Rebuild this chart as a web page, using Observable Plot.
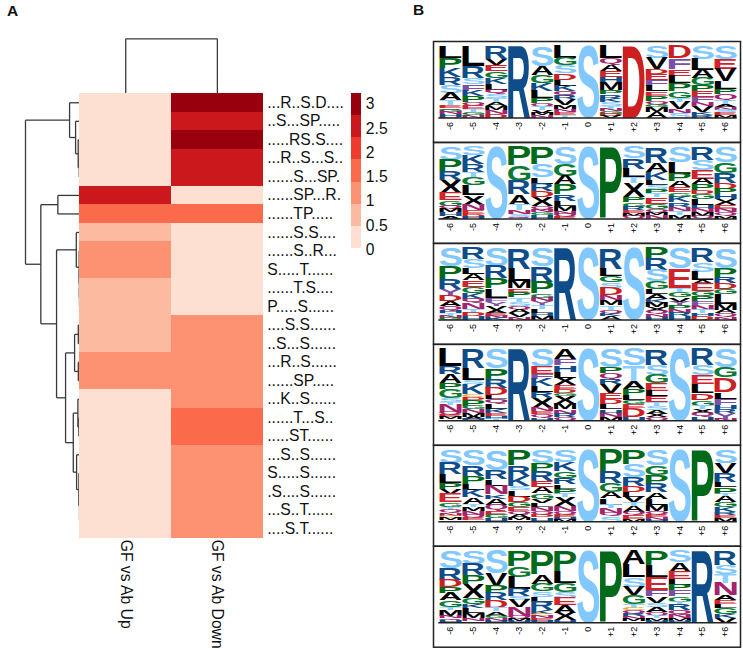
<!DOCTYPE html>
<html><head><meta charset="utf-8">
<script src="https://cdn.jsdelivr.net/npm/d3@7"></script>
<script src="https://cdn.jsdelivr.net/npm/@observablehq/plot@0.6"></script>
<style>
html,body{margin:0;padding:0;background:#fff}
#chart{position:relative;width:743px;height:655px;overflow:hidden;font-family:"Liberation Sans",Arial,sans-serif}
#chart svg{position:absolute;left:0;top:0;background:transparent}
.tag{position:absolute;font-weight:bold;font-size:15.5px;line-height:16px;color:#111}
</style></head>
<body><div id="chart"><div class="tag" style="left:7px;top:3px">A</div><div class="tag" style="left:413px;top:2px">B</div></div>
<script>
// ---------- Heatmap data ----------
const columns = ["GF vs Ab Up", "GF vs Ab Down"];
const motifs = ["...R..S.D....","..S...SP.....",".....RS.S....","...R..S...S..","......S...SP.","......SP...R.","......TP.....",
"......S.S....","......S..R...","S.....T......","......T.S....","P.....S......","....S.S......","..S...S......",
"...R..S......","......SP.....","...K..S......","......T...S..",".....ST......","...S..S......","S.....S......",".S....S......","...S..T......","....S.T......"];
const upValues   = [0,0,0,0,0,2.5,1.5,0.5,1,1,0.5,0.5,0.5,0.5,1,1,0,0,0,0,0,0,0,0];
const downValues = [3,2.5,3,2.5,2.5,0,1.5,0,0,0,0,0,1,1,1,1,1,1.5,1.5,1,1,1,1,1];
const legendBreaks = [0.46,0.91,1.37,1.83,2.29,2.74];
const legendEnds = [0,0.46,0.91,1.37,1.83,2.29,2.74,3.2];
const legendTicks = [0,0.5,1,1.5,2,2.5,3];
const reds = ["#FEE0D2","#FCBBA1","#FC9272","#FB6A4A","#EF3B2C","#CB181D","#99000D"];

// ---------- Dendrograms: [height, branch, branch]; a number is a leaf ----------
const rowTree = [54.3,
  [10.3, 0, [4.3, 1, [1.7, 2, [0.6, 3, 4]]]],
  [39,
    [22, 5, 6],
    [23.3,
      [3.6, 7, [0.7, 8, [0.5, 9, [0.4, 10, 11]]]],
      [14.3,
        [5.3, [1.6, 12, 13], [1.6, 14, 15]],
        [6.6,
          [2, 16, [1, 17, 18]],
          [3.3, 19, [1, 20, [0.4, 21, [0.2, 22, 23]]]]
        ]
      ]
    ]
  ]
];
const colTree = [54.7, 0, 1];

// ---------- Sequence logos: letters top to bottom with their share of the stack ----------
const positions = [-6,-5,-4,-3,-2,-1,0,1,2,3,4,5,6];
const positionLabels = ["-6","-5","-4","-3","-2","-1","0","+1","+2","+3","+4","+5","+6"];
const logo1 = ["L16 P15 K12 R11 S11 A10 T7 E4 Q3 G3 N3 H3 D2","L28 R16 S9 F9 K8 P8 Q5 E5 T4 G4 N4","R18 V8 E9 G9 K9 L8 Q6 S6 T5 A6 M5 N5 D6","R100","S28 A12 G11 K11 L10 P7 Q5 T5 V4 M3 N4","L17 G10 S11 D9 L8 K8 Q6 R5 V8 M6 N4 E4 T4","S100","L17 Q9 A9 E8 H8 M10 P6 R6 K5 S5 T4 N4 G3 D3 V3","D100","S17 V15 D7 E8 F8 L8 E6 P7 Q5 G4 M7 A8","D17 F15 E9 L11 P11 G9 T6 V10 N5 S7","S18 L15 A12 G10 P8 E8 F7 N6 V8 K4 R4","S18 E14 V17 L11 P7 Q8 T6 A4 N4 S3 E4 M4"];
const logo2 = ["S18 P16 R12 X18 E10 G8 Q4 M5 H5 A4","S12 K12 R11 T7 G11 L14 X13 N8 E5 D4 H3","S100","P26 G21 R19 A14 T8 N5 S4 Q3","P24 S18 L9 R10 D9 X12 Q5 N4 G4 H5","S24 G16 A12 P14 R9 L7 M7 N4 Q4 E3","S100","P100","S16 R14 L12 T8 X20 P7 G6 R5 E4 M4 Q4","R22 A13 K11 L7 S5 P6 T6 E9 G7 Q5 M4 N5","S21 L16 P10 A9 E7 G6 K8 R6 N6 T5 M6","R18 S14 E12 A8 P8 D6 G7 L8 H5 N5 M5 Q4","S21 G15 R14 D8 P8 H7 X8 E5 N5 Q5 M4"];
const logo3 = ["S25 P18 R14 Y9 D8 A7 Q6 H4 T3 N3 G3","R15 S13 L8 A9 E9 G9 K8 Q6 N8 T5 D5 H5","S25 R17 P14 L13 F6 Y6 V5 A4 E4 N3 K3","R29 L17 M10 E6 P7 T6 S6 Q5 A5 V5 N4","S25 R22 P16 G6 N5 Y6 T5 L6 H4 M5","R100","S100","R29 L10 G9 S8 D10 N7 M7 T6 Q5 K4 A5","S100","P15 R15 S15 G10 L6 A7 K5 M6 X5 Q4 N4 H4","S29 E27 T5 G8 V6 Y5 P5 N5 R5 H5","R20 S13 L12 A5 E10 G7 P7 F5 N7 T5 H4 D5","S28 P12 R9 D8 G7 L14 M8 A5 Q5 N4"];
const logo4 = ["L24 R11 A12 P9 G12 S6 T4 N10 Q4 E3 M3 H2","R27 L16 S6 K14 C4 D4 P8 G5 N5 M5 A3 H3","S27 P15 R12 D10 L6 Q7 L7 K5 E4 H4 T3","R100","S25 E10 F7 K10 L8 R8 X14 N5 E4 Q5 H4","A14 F9 H9 L8 X10 E6 D6 G4 X10 M8 N6 R5 Q5","S100","S25 P9 Q8 R7 V12 E9 D7 L7 H6 N5 M5","S23 T22 A11 P8 L7 G6 E5 D13 H5","R22 S14 G12 E10 L8 E8 T6 S5 A5 X5 Q5","S100","R23 S14 E12 L13 D9 G8 T5 X5 Q6 H5","S26 G14 D20 L9 F9 H6 R5 Y8 N3"];
const logo5 = ["S18 R15 L13 P8 V7 E12 G6 T4 Q5 N4 C3 M3 H2","S22 R14 P11 L9 K10 A9 T4 M6 N5 Q5 E3 H2","S28 R13 L9 N12 K6 A8 Q8 E6 G5 H5","P22 R14 K14 S6 L9 D8 G7 E5 Q5 A5 M3 N2","S18 P11 R14 E8 A9 G8 V6 L5 N6 Q5 D4 H6","S17 K13 G9 R9 L6 P7 T5 X12 N7 Q5 E4 H3 M3","S100","P30 R16 G13 A8 L9 T5 N7 Q4 S8","P20 S18 R12 D8 L7 V8 T5 A8 Q5 E5 M4","S22 G13 P12 R12 A9 L8 M9 Q5 E4 N3 H3","S100","P100","S18 V14 R13 L7 P9 T3 A8 G8 K7 R4 E4 M5"];
const logo6 = ["S24 R16 D10 P9 A10 G9 T4 M8 N4 Q3 H3","S18 R16 P12 X19 G9 K6 L7 M7 N4 E2","S32 V17 P10 R10 D10 T5 A6 G4 N3 H3","P21 G15 L17 R10 S5 V10 N12 Q4 M3 H3","P33 A13 G10 S8 L7 R12 K5 C3 N3 E3 H3","P29 L16 G12 S9 E10 A10 X10 H4","S100","P100","A19 L18 S13 V12 G12 T5 C4 Q4 R4 N4 M3 H2","P20 L16 E18 F9 V9 S6 A7 Q5 T3 M4 H3","S16 A13 E10 L8 P8 F8 G8 T3 R9 Q6 N5 M3 H3","R100","R20 S13 T12 N17 A7 E5 L5 G9 K5 V7"];
const logoPanels = [logo1, logo2, logo3, logo4, logo5, logo6];
const letterNames = ["S","T","R","K","H","P","G","D","E","L","A","V","M","I","X","N","Q","F","Y","C"];
const letterColors = ["#80C8FF","#8CD0FF","#0F4C8A","#0F4C8A","#0F4C8A","#006A1A","#0B7A32","#CC1F1F","#D0232B","#000000","#000000","#000000","#000000","#000000","#000000","#A3246C","#A3246C","#7B4FA6","#7B4FA6","#F5A623"];

// ---------- Build tables ----------
const cells = [];
motifs.forEach((m, i) => {
  cells.push({col: columns[0], row: m, value: upValues[i]});
  cells.push({col: columns[1], row: m, value: downValues[i]});
});
function treeSegments(node, out) {
  if (typeof node === "number") return {h: 0, p: node + 0.5};
  const a = treeSegments(node[1], out), b = treeSegments(node[2], out), h = node[0];
  out.push({h1: a.h, p1: a.p, h2: h, p2: a.p}, {h1: h, p1: a.p, h2: h, p2: b.p}, {h1: h, p1: b.p, h2: b.h, p2: b.p});
  return {h, p: (a.p + b.p) / 2};
}
const rowSegs = []; treeSegments(rowTree, rowSegs);
const colSegs = []; treeSegments(colTree, colSegs);
const legendCells = reds.map((c, i) => ({y1: legendEnds[i], y2: legendEnds[i + 1], v: legendEnds[i]}));

const letters = [];
logoPanels.forEach((panel, pi) => panel.forEach((stack, ci) => {
  const items = stack.split(" ").map(s => ({l: s[0], f: +s.slice(1)}));
  const total = d3.sum(items, d => d.f);
  let top = 100;
  for (const it of items) {
    const h = it.f * 100 / total;
    letters.push({panel: pi, pos: positions[ci], letter: it.l, y1: top, y0: top - h});
    top -= h;
  }
}));

// ---------- Glyph metrics for stretching letters to fit their box ----------
const LOGO_FONT = '"Liberation Sans", Arial, sans-serif';
const mctx = document.createElement("canvas").getContext("2d");
mctx.font = `bold 100px ${LOGO_FONT}`;
const metrics = {};
for (const l of letterNames) {
  const m = mctx.measureText(l);
  metrics[l] = {left: -m.actualBoundingBoxLeft, right: m.actualBoundingBoxRight, asc: m.actualBoundingBoxAscent, desc: m.actualBoundingBoxDescent};
}
function stretchLetters(index, scales, values, dims, ctx, next) {
  const g = next(index, scales, values, dims, ctx);
  const nodes = g.querySelectorAll("text");
  const halfW = 0.485;
  Array.from(index).forEach((i, k) => {
    const d = letters[i], m = metrics[d.letter], el = nodes[k];
    if (!el) return;
    const x0 = scales.x(d.pos - halfW), x1 = scales.x(d.pos + halfW);
    const yb = scales.y(d.y0), yt = scales.y(d.y1);
    const sx = (x1 - x0) / (m.right - m.left), sy = (yb - yt) / (m.asc + m.desc);
    el.removeAttribute("y"); el.removeAttribute("dy");
    el.setAttribute("transform", `translate(${x0},${yb}) scale(${sx},${sy}) translate(${-m.left},${-m.desc})`);
  });
  return g;
}

const W = 743, H = 655;
const font = "Liberation Sans, Arial, sans-serif";
const chart = document.getElementById("chart");

// Row dendrogram
chart.append(Plot.plot({
  width: W, height: H, marginLeft: 25, marginRight: W - 79.4, marginTop: 93, marginBottom: H - 537.7,
  x: {domain: [54.3, 0], axis: null}, y: {domain: [24, 0], axis: null},
  marks: [Plot.link(rowSegs, {x1: "h1", y1: "p1", x2: "h2", y2: "p2", stroke: "#3a3a3a", strokeWidth: 1.3})]
}));
// Column dendrogram
chart.append(Plot.plot({
  width: W, height: H, marginLeft: 79.4, marginRight: W - 262.7, marginTop: 38.3, marginBottom: H - 93,
  x: {domain: [0, 2], axis: null}, y: {domain: [0, 54.7], axis: null},
  marks: [Plot.link(colSegs, {x1: "p1", y1: "h1", x2: "p2", y2: "h2", stroke: "#3a3a3a", strokeWidth: 1.3})]
}));
// Heatmap
chart.append(Plot.plot({
  width: W, height: H, marginLeft: 79.4, marginRight: W - 262.7, marginTop: 93, marginBottom: H - 537.7,
  style: {fontFamily: font},
  x: {domain: columns, padding: 0, round: false},
  y: {domain: motifs, padding: 0, round: false},
  color: {type: "threshold", domain: legendBreaks, range: reds},
  marks: [
    Plot.cell(cells, {x: "col", y: "row", fill: "value", inset: 0, shapeRendering: "crispEdges"}),
    Plot.axisY({anchor: "right", tickSize: 0, tickPadding: 4, fontSize: 15.7, label: null, fill: "#111"}),
    Plot.axisX({anchor: "bottom", tickSize: 0, tickPadding: 1.5, tickRotate: 90, fontSize: 15.7, label: null, fill: "#111", lineAnchor: "middle", textAnchor: "start"})
  ]
}));
// Colour legend
chart.append(Plot.plot({
  width: W, height: H, marginLeft: 351, marginRight: W - 361.3, marginTop: 93, marginBottom: H - 248.3,
  style: {fontFamily: font},
  x: {domain: [0, 1], axis: null},
  y: {domain: [0, 3.2], axis: null},
  color: {type: "threshold", domain: legendBreaks, range: reds},
  marks: [
    Plot.rectY(legendCells, {x1: 0, x2: 1, y1: "y1", y2: "y2", fill: "v", shapeRendering: "crispEdges"}),
    Plot.axisY(legendTicks, {anchor: "right", tickSize: 0, tickPadding: 4, fontSize: 15.7, dy: 1, label: null, fill: "#111", tickFormat: d => String(d)})
  ]
}));
// Sequence logos
chart.append(Plot.plot({
  width: W, height: H, marginLeft: 433, marginRight: 3, marginTop: 41, marginBottom: H - 646.7,
  style: {fontFamily: font},
  x: {domain: [-6.742, 6.654], axis: null},
  y: {domain: [-34, 106.25], axis: null},
  fy: {domain: d3.range(6), padding: 0, axis: null, round: false},
  color: {domain: letterNames, range: letterColors},
  marks: [
    Plot.text(letters, {x: "pos", y: "y0", fy: "panel", text: "letter", fill: "letter", fontSize: 100, fontWeight: "bold", fontFamily: LOGO_FONT, textAnchor: "start", render: stretchLetters}),
    Plot.ruleY([0], {x1: -6.51, x2: 6.51, stroke: "#222", strokeWidth: 1.5}),
    Plot.text(positions, {x: d => d, y: 0, text: (d, i) => positionLabels[i], rotate: -90, textAnchor: "end", dy: 4, fontSize: 9, fill: "#000"}),
    Plot.frame({stroke: "#222", strokeWidth: 1.5})
  ]
}));
</script></body></html>
